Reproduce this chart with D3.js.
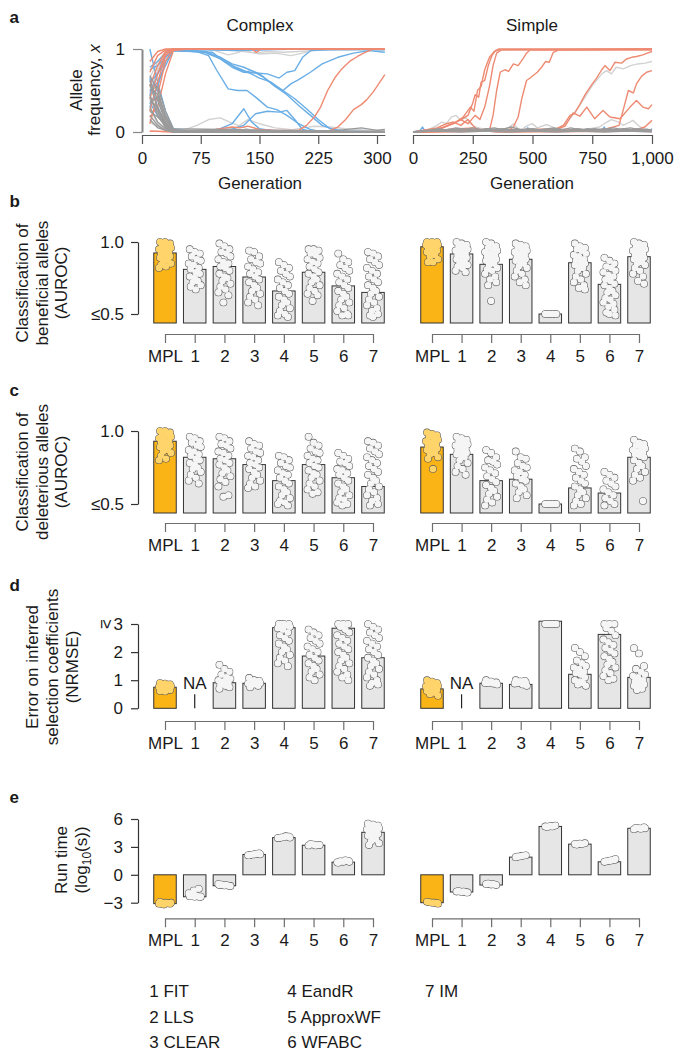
<!DOCTYPE html>
<html><head><meta charset="utf-8">
<script src="https://cdn.jsdelivr.net/npm/d3@7"></script>
<style>body{margin:0;background:#fff}</style>
</head><body>
<script>
// ---------------- DATA ----------------
const categories = ['MPL','1','2','3','4','5','6','7'];
const methodLegend = ['1 FIT','2 LLS','3 CLEAR','4 EandR','5 ApproxWF','6 WFABC','7 IM'];

// Panel a: trajectories [generation, allele frequency]
const complexDeleterious = [
  [[10,1.0],[20,0.6],[30,0.25],[40,0.04],[60,0.01],[80,0.0],[100,0.04],[115,0.1],[130,0.28],[140,0.12],[150,0.04],[170,0.01],[200,0],[310,0]],
  [[10,0.75],[20,0.8],[30,0.9],[40,0.98],[70,0.97],[85,0.92],[95,0.75],[110,0.52],[122,0.5],[134,0.5],[145,0.42],[160,0.3],[172,0.27],[185,0.2],[200,0.1],[215,0.03],[230,0],[310,0]],
  [[10,0.6],[20,0.7],[30,0.85],[40,0.98],[80,0.96],[100,0.88],[115,0.78],[130,0.72],[140,0.74],[155,0.66],[170,0.55],[185,0.45],[200,0.32],[215,0.2],[230,0.08],[250,0.01],[310,0]],
  [[10,0.5],[20,0.6],[30,0.8],[40,0.99],[80,0.97],[100,0.9],[115,0.8],[130,0.72],[145,0.71],[160,0.7],[175,0.65],[185,0.72],[195,0.74],[205,0.9],[215,0.98],[240,0.99],[310,1.0]],
  [[10,0.3],[20,0.55],[30,0.85],[40,0.98],[90,0.96],[105,0.85],[120,0.78],[135,0.72],[150,0.65],[165,0.6],[180,0.5],[195,0.4],[210,0.28],[225,0.15],[240,0.04],[260,0.01],[310,0]],
  [[10,0.45],[20,0.7],[30,0.9],[40,0.99],[80,0.97],[100,0.9],[115,0.82],[130,0.78],[150,0.7],[170,0.55],[180,0.5],[190,0.58],[200,0.63],[215,0.72],[230,0.82],[250,0.9],[270,0.95],[290,0.98],[310,0.96]],
  [[10,0.35],[20,0.2],[30,0.08],[40,0.01],[80,0],[110,0.02],[130,0.08],[145,0.22],[160,0.25],[175,0.24],[185,0.26],[195,0.15],[205,0.03],[220,0],[310,0]],
  [[10,0.65],[20,0.3],[30,0.1],[40,0.02],[120,0.01],[310,0]],
  [[10,0.78],[20,0.85],[30,0.95],[40,1.0],[80,0.99],[120,0.98],[160,0.99],[200,1.0],[310,0.99]]
];
const complexBeneficial = [
  [[10,0.1],[20,0.45],[30,0.85],[40,1],[310,1]],
  [[10,0.25],[20,0.6],[30,0.92],[40,1],[140,1],[146,0.96],[152,1],[310,1]],
  [[10,0.4],[20,0.7],[30,0.95],[40,1],[310,1]],
  [[10,0.55],[20,0.8],[30,0.97],[40,1],[310,1]],
  [[10,0.72],[20,0.92],[30,0.99],[40,1],[310,1]],
  [[10,0.85],[20,0.97],[30,1],[310,1]],
  [[10,0.18],[20,0.3],[30,0.7],[40,0.98],[60,1],[310,1]],
  [[10,0.01],[40,0],[80,0.01],[100,0.04],[115,0.06],[125,0.05],[135,0.07],[150,0.03],[170,0.02],[200,0.02],[210,0.08],[220,0.18],[228,0.3],[237,0.5],[246,0.65],[255,0.76],[265,0.85],[275,0.91],[285,0.96],[295,1],[310,1]],
  [[10,0.01],[60,0],[120,0.01],[160,0.02],[200,0],[240,0.02],[250,0.06],[260,0.15],[270,0.27],[280,0.33],[287,0.39],[295,0.48],[300,0.55],[310,0.69]]
];
const complexNeutral = [
  [[10,0.62],[20,0.38],[30,0.12],[40,0.01],[100,0],[200,0.01],[310,0]],
  [[10,0.55],[20,0.45],[30,0.2],[40,0.03],[60,0],[310,0]],
  [[10,0.45],[20,0.2],[30,0.06],[40,0],[310,0.01]],
  [[10,0.38],[20,0.3],[30,0.1],[40,0.01],[150,0.02],[200,0],[310,0]],
  [[10,0.3],[20,0.12],[30,0.04],[40,0],[250,0.02],[280,0.05],[300,0.02],[310,0.03]],
  [[10,0.25],[20,0.18],[30,0.08],[40,0.02],[310,0]],
  [[10,0.5],[20,0.55],[30,0.25],[40,0.04],[310,0]],
  [[10,0.68],[20,0.5],[30,0.18],[40,0.02],[310,0]],
  [[10,0.2],[20,0.08],[30,0.02],[40,0],[310,0]],
  [[10,0.35],[20,0.42],[30,0.15],[40,0.01],[310,0]],
  [[10,0.42],[20,0.25],[30,0.05],[40,0],[310,0]],
  [[10,0.15],[20,0.05],[40,0],[310,0]],
  [[10,0.58],[20,0.28],[30,0.08],[40,0],[310,0]]
];
const complexNeutralLight = [
  [[10,0.48],[20,0.75],[30,0.95],[40,1],[90,0.99],[100,0.96],[110,0.93],[120,0.95],[130,0.98],[150,0.94],[170,0.95],[190,0.92],[205,0.95],[220,0.99],[240,1],[310,1]],
  [[10,0.65],[20,0.85],[30,0.97],[40,1],[110,0.99],[130,0.97],[145,0.95],[160,0.97],[180,0.96],[200,0.97],[230,0.99],[310,0.99]],
  [[10,0.28],[20,0.1],[30,0.02],[50,0.01],[70,0.08],[85,0.15],[100,0.17],[112,0.12],[125,0.07],[140,0.02],[160,0],[310,0]],
  [[10,0.12],[30,0.01],[100,0.02],[180,0.01],[200,0.04],[220,0.07],[240,0.06],[260,0.04],[290,0.02],[310,0.03]],
  [[10,0.4],[20,0.22],[30,0.08],[40,0.01],[80,0.02],[120,0.05],[135,0.15],[150,0.1],[170,0.05],[200,0.02],[310,0]]
];

const simpleBeneficial = [
  [[0,0],[60,0.01],[120,0.05],[170,0.1],[200,0.15],[230,0.2],[250,0.35],[260,0.45],[275,0.42],[285,0.6],[300,0.62],[315,0.8],[330,0.92],[345,0.98],[360,1],[1000,1]],
  [[0,0],[80,0.02],[130,0.06],[180,0.12],[210,0.18],[240,0.3],[255,0.25],[270,0.5],[285,0.55],[300,0.75],[320,0.9],[340,0.97],[360,0.99],[1000,1]],
  [[0,0],[100,0.02],[150,0.08],[200,0.15],[230,0.1],[260,0.2],[280,0.15],[300,0.3],[320,0.55],[335,0.8],[350,0.95],[370,0.99],[1000,0.99]],
  [[0,0],[150,0.03],[250,0.05],[300,0.02],[320,0.02],[335,0.2],[350,0.5],[365,0.72],[385,0.75],[400,0.73],[420,0.82],[440,0.8],[460,0.88],[475,0.95],[490,0.99],[1000,0.99]],
  [[0,0],[200,0.02],[300,0.03],[400,0.02],[420,0.06],[440,0.18],[455,0.4],[475,0.62],[490,0.65],[503,0.68],[520,0.72],[538,0.78],[555,0.85],[570,0.84],[587,0.96],[610,0.99],[1000,1]],
  [[0,0],[300,0.02],[500,0.03],[600,0.04],[629,0.08],[657,0.2],[675,0.22],[698,0.33],[720,0.45],[748,0.57],[768,0.65],[790,0.75],[803,0.8],[824,0.74],[845,0.84],[873,0.83],[893,0.88],[915,0.9],[935,0.91],[962,0.93],[980,0.95],[1000,0.97]],
  [[0,0],[500,0.02],[800,0.03],[862,0.08],[880,0.27],[901,0.5],[922,0.47],[935,0.58],[956,0.67],[977,0.72],[1000,0.74]],
  [[0,0],[400,0.02],[600,0.03],[636,0.07],[670,0.23],[698,0.19],[727,0.3],[760,0.16],[795,0.26],[824,0.18],[866,0.16],[908,0.3],[935,0.38],[962,0.3],[985,0.28],[1000,0.33]],
  [[0,0],[800,0.02],[940,0.03],[970,0.06],[1000,0.14]],
  [[0,0],[100,0.05],[140,0.1],[170,0.12],[200,0.08],[230,0.15],[260,0.05],[280,0.02],[350,0],[1000,0.01]]
];
const simpleDeleterious = [
  [[0,0],[30,0.02],[40,0.06],[50,0.01],[300,0.02],[470,0.01],[480,0.05],[495,0.01],[600,0.02],[790,0.01],[800,0.06],[810,0.01],[900,0.02],[990,0.01],[1000,0.04]]
];
const simpleNeutralLight = [
  [[0,0],[60,0.02],[100,0.08],[120,0.12],[140,0.1],[160,0.18],[180,0.2],[200,0.14],[220,0.18],[240,0.1],[260,0.06],[300,0.03],[350,0.02],[400,0.05],[420,0.1],[440,0.04],[500,0.02],[1000,0.01]],
  [[0,0],[150,0.03],[450,0.02],[480,0.08],[500,0.1],[520,0.05],[560,0.09],[600,0.04],[700,0.02],[780,0.06],[800,0.1],[830,0.15],[860,0.12],[880,0.08],[920,0.14],[950,0.06],[1000,0.02]],
  [[0,0],[500,0.02],[600,0.03],[640,0.1],[680,0.25],[720,0.42],[748,0.55],[790,0.7],[810,0.74],[830,0.7],[850,0.78],[880,0.76],[910,0.8],[940,0.82],[970,0.83],[1000,0.85]]
];
const simpleNeutral = [
  [[0,0],[50,0.02],[100,0.01],[150,0.03],[200,0.02],[250,0.05],[300,0.02],[350,0.01],[400,0.03],[450,0.02],[500,0.04],[550,0.02],[600,0.03],[650,0.01],[700,0.03],[750,0.02],[800,0.04],[850,0.02],[900,0.03],[950,0.02],[1000,0.01]],
  [[0,0],[40,0.01],[90,0.03],[140,0.02],[190,0.04],[240,0.02],[290,0.03],[340,0.05],[390,0.02],[440,0.03],[490,0.01],[540,0.03],[590,0.05],[640,0.02],[690,0.04],[740,0.02],[790,0.03],[840,0.05],[890,0.02],[940,0.04],[1000,0.02]],
  [[0,0],[60,0.02],[110,0.04],[160,0.01],[210,0.03],[260,0.01],[310,0.04],[360,0.02],[410,0.06],[460,0.02],[510,0.03],[560,0.01],[610,0.02],[660,0.05],[710,0.02],[760,0.04],[810,0.02],[860,0.03],[910,0.05],[960,0.02],[1000,0.03]],
  [[0,0],[70,0.01],[130,0.02],[180,0.05],[230,0.03],[280,0.01],[330,0.03],[380,0.04],[430,0.01],[480,0.04],[530,0.02],[580,0.04],[630,0.02],[680,0.01],[730,0.04],[780,0.02],[830,0.01],[880,0.04],[930,0.02],[980,0.03],[1000,0.02]],
  [[0,0],[100,0.01],[200,0],[300,0.01],[400,0],[500,0.01],[600,0],[700,0.01],[800,0],[900,0.01],[1000,0]]
];
const complexGenTicks = [0,75,150,225,300];
const simpleGenTicks = [0,250,500,750,1000];

// Panel b: AUROC beneficial
const benComplexBars = [0.924,0.81,0.83,0.757,0.66,0.79,0.695,0.65];
const benSimpleBars  = [0.967,0.917,0.845,0.88,0.5,0.856,0.706,0.898];
const benComplexPts = [
  [1.0,1.0,0.99,0.98,0.97,0.96,0.95,0.94,0.93,0.92,0.91,0.9,0.89,0.88,0.87,0.86,0.85,0.84,0.83,0.82],
  [0.95,0.93,0.92,0.9,0.88,0.87,0.85,0.84,0.82,0.81,0.79,0.78,0.76,0.75,0.73,0.72,0.7,0.69,0.67],
  [0.99,0.97,0.95,0.93,0.92,0.9,0.88,0.86,0.85,0.83,0.82,0.8,0.78,0.76,0.75,0.73,0.71,0.69,0.67,0.65,0.63,0.58],
  [0.94,0.93,0.9,0.88,0.86,0.85,0.83,0.81,0.79,0.78,0.76,0.74,0.72,0.7,0.68,0.66,0.64,0.62,0.6,0.58,0.56],
  [0.86,0.84,0.82,0.8,0.78,0.76,0.74,0.72,0.7,0.68,0.66,0.64,0.62,0.6,0.58,0.56,0.54,0.52,0.5,0.49,0.48],
  [0.95,0.95,0.94,0.92,0.91,0.89,0.88,0.86,0.85,0.83,0.81,0.79,0.78,0.76,0.74,0.72,0.7,0.68,0.66,0.64,0.63,0.59],
  [0.92,0.88,0.86,0.84,0.82,0.8,0.78,0.76,0.74,0.72,0.7,0.68,0.66,0.64,0.62,0.6,0.58,0.56,0.54,0.52,0.5,0.49,0.49],
  [0.93,0.92,0.9,0.88,0.86,0.84,0.82,0.8,0.78,0.76,0.74,0.72,0.7,0.68,0.66,0.64,0.62,0.6,0.58,0.56,0.54,0.52,0.5,0.49,0.48]
];
const benSimplePts = [
  [1.0,1.0,1.0,0.99,0.99,0.98,0.98,0.97,0.97,0.96,0.95,0.94,0.93,0.92,0.91,0.9,0.88,0.86,0.86],
  [1.0,0.99,0.98,0.97,0.96,0.95,0.94,0.93,0.92,0.91,0.9,0.89,0.88,0.87,0.86,0.85,0.84,0.83,0.82,0.8,0.79],
  [1.0,0.99,0.97,0.96,0.95,0.94,0.93,0.92,0.91,0.9,0.89,0.88,0.87,0.86,0.85,0.84,0.82,0.81,0.8,0.78,0.76,0.74,0.72,0.7,0.59],
  [0.99,0.98,0.97,0.96,0.95,0.94,0.93,0.92,0.91,0.9,0.89,0.88,0.87,0.86,0.85,0.83,0.82,0.8,0.78,0.76,0.74,0.72,0.7],
  [0.5,0.5,0.5,0.5,0.5,0.5],
  [0.99,0.97,0.96,0.95,0.94,0.92,0.91,0.9,0.88,0.87,0.86,0.85,0.84,0.83,0.82,0.8,0.78,0.76,0.74,0.72,0.7,0.68,0.67],
  [0.89,0.87,0.85,0.83,0.82,0.8,0.79,0.77,0.76,0.74,0.73,0.71,0.7,0.68,0.66,0.65,0.63,0.61,0.6,0.58,0.57,0.55,0.53,0.51,0.5,0.49],
  [1.0,0.99,0.98,0.97,0.96,0.95,0.94,0.93,0.92,0.91,0.9,0.89,0.88,0.87,0.86,0.85,0.84,0.82,0.8,0.78,0.76,0.73,0.71]
];

// Panel c: AUROC deleterious
const delComplexBars = [0.93,0.82,0.81,0.77,0.66,0.77,0.68,0.62];
const delSimpleBars  = [0.89,0.84,0.66,0.67,0.5,0.61,0.575,0.82];
const delComplexPts = [
  [1.0,1.0,0.99,0.98,0.97,0.96,0.95,0.94,0.93,0.92,0.91,0.9,0.89,0.88,0.87,0.86,0.85,0.83,0.81,0.8],
  [0.96,0.95,0.93,0.92,0.9,0.89,0.87,0.86,0.84,0.83,0.81,0.8,0.78,0.77,0.75,0.74,0.72,0.7,0.68,0.66,0.64],
  [0.96,0.95,0.93,0.91,0.9,0.88,0.86,0.85,0.83,0.81,0.8,0.78,0.77,0.75,0.73,0.71,0.69,0.67,0.65,0.62,0.56,0.55],
  [0.93,0.91,0.9,0.88,0.86,0.85,0.83,0.82,0.8,0.78,0.77,0.75,0.74,0.72,0.7,0.68,0.66,0.64,0.62,0.61],
  [0.83,0.82,0.8,0.78,0.76,0.75,0.73,0.71,0.7,0.68,0.66,0.64,0.62,0.6,0.58,0.56,0.54,0.52,0.51,0.5,0.49],
  [0.96,0.92,0.9,0.88,0.86,0.85,0.83,0.81,0.8,0.78,0.76,0.75,0.73,0.71,0.7,0.68,0.66,0.64,0.62,0.6,0.58,0.57],
  [0.85,0.83,0.81,0.79,0.78,0.76,0.74,0.73,0.71,0.7,0.68,0.66,0.64,0.62,0.6,0.58,0.56,0.54,0.53,0.51,0.5,0.49],
  [0.93,0.92,0.9,0.88,0.86,0.84,0.82,0.8,0.78,0.76,0.74,0.72,0.7,0.68,0.66,0.64,0.62,0.6,0.58,0.56,0.54,0.52,0.5,0.49]
];
const delSimplePts = [
  [0.99,0.98,0.97,0.96,0.95,0.94,0.93,0.92,0.91,0.9,0.89,0.88,0.87,0.86,0.85,0.84,0.82,0.81,0.74],
  [0.96,0.95,0.94,0.93,0.92,0.91,0.9,0.89,0.88,0.87,0.86,0.85,0.84,0.83,0.82,0.8,0.78,0.76,0.74,0.72,0.7],
  [0.87,0.85,0.82,0.8,0.79,0.77,0.75,0.73,0.71,0.69,0.67,0.65,0.63,0.61,0.59,0.57,0.55,0.53,0.51,0.49],
  [0.86,0.82,0.81,0.78,0.76,0.75,0.73,0.72,0.7,0.69,0.67,0.66,0.64,0.62,0.6,0.58,0.56,0.54],
  [0.5,0.5,0.5,0.5,0.5,0.5],
  [0.88,0.86,0.82,0.81,0.79,0.76,0.74,0.72,0.7,0.68,0.66,0.64,0.62,0.6,0.58,0.56,0.54,0.52,0.5,0.49],
  [0.72,0.7,0.68,0.66,0.64,0.62,0.6,0.58,0.56,0.54,0.52,0.5,0.49],
  [0.94,0.92,0.91,0.9,0.89,0.88,0.87,0.86,0.85,0.84,0.83,0.82,0.8,0.78,0.76,0.74,0.72,0.7,0.68,0.66,0.52]
];

// Panel d: NRMSE (null = not available)
const errComplexBars = [0.75,null,0.91,0.89,2.87,1.86,2.85,1.8];
const errSimpleBars  = [0.69,null,0.89,0.85,3.1,1.21,2.63,1.1];
const errComplexPts = [
  [0.9,0.88,0.85,0.82,0.8,0.78,0.76,0.74,0.72,0.7,0.68,0.65,0.62,0.6],
  [],
  [1.55,1.4,1.3,1.2,1.1,1.05,1.0,0.95,0.9,0.85,0.8,0.75,0.7],
  [1.08,1.0,0.98,0.95,0.92,0.9,0.88,0.85,0.8,0.75],
  [3,3,3,3,2.95,2.9,2.85,2.8,2.7,2.6,2.5,2.4,2.3,2.2,2.1,2.0,1.9,1.8,1.7,1.6,1.5],
  [2.8,2.7,2.6,2.5,2.4,2.3,2.2,2.1,2.0,1.9,1.8,1.7,1.6,1.5,1.4,1.3,1.2,1.1,1.0],
  [3,3,3,2.9,2.8,2.7,2.6,2.5,2.4,2.3,2.2,2.1,2.0,1.9,1.8,1.7,1.6,1.5,1.4,1.3,1.2,1.1,1.0],
  [3.0,2.9,2.8,2.7,2.6,2.5,2.4,2.3,2.2,2.1,2.0,1.9,1.8,1.7,1.6,1.5,1.4,1.3,1.2,1.1,1.0,0.9,0.85,0.8]
];
const errSimplePts = [
  [1.0,0.95,0.9,0.85,0.82,0.8,0.78,0.75,0.72,0.7,0.68,0.65,0.62,0.6,0.55,0.5,0.45],
  [],
  [1.0,0.95,0.92,0.9,0.88,0.85,0.9,0.93],
  [1.0,0.95,0.92,0.9,0.85,0.8,0.88,0.95,0.98],
  [3,3,3,3,3,3],
  [2.15,2.0,1.85,1.7,1.6,1.5,1.45,1.4,1.3,1.25,1.2,1.1,1.0,0.95,0.9,0.85,0.8],
  [3,3,3,2.85,2.75,2.6,2.45,2.35,2.25,2.15,2.05,1.95,1.85,1.75,1.65,1.55,1.45,1.35,1.25,1.15,1.05,1.0],
  [2.14,1.95,1.5,1.4,1.3,1.2,1.15,1.1,1.0,0.95,0.9,0.85,0.8,0.75,0.7,0.65]
];

// Panel e: run time log10(s)
const timeComplexBars = [-3.1,-2.36,-1.18,2.19,4.0,3.18,1.36,4.57];
const timeSimpleBars  = [-3.0,-1.85,-1.1,1.9,5.2,3.3,1.4,5.0];
const timeComplexPts = [
  [-2.9,-3.0,-3.1,-3.15,-3.05,-3.0,-3.1,-3.2],
  [-2.3,-2.35,-2.4,-2.3,-2.25,-2.35,-2.0,-1.7,-1.5],
  [-1.1,-1.15,-1.2,-1.05,-1.1,-1.2,-1.0],
  [2.1,2.2,2.3,2.15,2.25,2.2,2.1],
  [3.95,4.05,4.1,4.0,4.15,4.0,3.95],
  [3.15,3.25,3.2,3.3,3.15,3.2],
  [1.3,1.4,1.5,1.45,1.55,1.4,1.35],
  [5.5,5.4,5.3,5.2,5.1,5.0,4.9,4.8,4.7,4.6,4.5,4.4,4.2,4.0,3.8,3.6,3.4,3.2]
];
const timeSimplePts = [
  [-2.9,-3.0,-3.05,-2.95,-3.0,-3.1],
  [-1.8,-1.85,-1.9,-1.75,-1.8,-1.9],
  [-1.0,-1.05,-1.1,-0.95,-1.0],
  [1.9,2.0,2.1,1.95,2.05],
  [5.2,5.25,5.3,5.15,5.2],
  [3.3,3.35,3.4,3.25,3.3],
  [1.4,1.5,1.6,1.45,1.55,1.7],
  [4.9,5.0,5.1,5.05,4.95,5.0]
];

// ---------------- STYLE ----------------
const FONT = "'Liberation Sans', Arial, Helvetica, sans-serif";
const FS = 17;
const C = {red:'#ee8a72', blue:'#6aaee6', gray:'#9a9a9a', lgray:'#d2d2d2',
  mpl:'#fbb416', mplPt:'#ffd46a', bar:'#e6e6e6', barStroke:'#333', ptStroke:'#5a5a5a',
  text:'#1a1a1a', axis:'#6e6e6e', yaxis:'#333'};
const jitter = [-5,0,5,-3,2,6,-6,-1,4,-4,1,5,-5,0,3,-2,6,-4,1,-6,4,-1,5,-3,0,6,-5,2];

const svg = d3.select('body').append('svg').attr('width',675).attr('height',1052)
  .style('font-family',FONT);

function label(x,y,str,o={}){
  const g = svg.append('g').attr('transform',`translate(${x},${y}) rotate(${o.rotate||0})`);
  const t = g.append('text').attr('text-anchor',o.anchor||'middle').attr('font-size',o.size||FS)
    .attr('font-weight',o.weight||'normal').attr('fill',C.text);
  if (typeof str === 'string') t.text(str); else str(t);
  return t;
}
function styleAxis(g, color){
  g.select('.domain').attr('stroke',color).attr('stroke-width',1.2);
  g.selectAll('.tick line').attr('stroke',color).attr('stroke-width',1.2);
  g.selectAll('.tick text').attr('font-size',FS).attr('font-family',FONT).attr('fill',C.text);
}

// ---------------- PANEL A ----------------
const yA = d3.scaleLinear().domain([0,1]).range([132,49]);
const xC = d3.scaleLinear().domain([0,310]).range([142,142+310*235/300]);
const xS = d3.scaleLinear().domain([0,1000]).range([413,652]);

function drawTraj(x, groups){
  const line = d3.line().x(d=>x(d[0])).y(d=>yA(d[1]));
  const g = svg.append('g').attr('fill','none').attr('stroke-width',1.4).attr('stroke-linejoin','round');
  groups.forEach(([data,color])=>{
    g.append('g').selectAll('path').data(data).join('path').attr('d',line).attr('stroke',color);
  });
}
drawTraj(xC, [[complexNeutralLight,C.lgray],[complexDeleterious,C.blue],[complexBeneficial,C.red],[complexNeutral,C.gray]]);
drawTraj(xS, [[simpleNeutralLight,C.lgray],[simpleDeleterious,C.blue],[simpleBeneficial,C.red],[simpleNeutral,C.gray]]);

const ayA = svg.append('g').attr('transform','translate(142,0)')
  .call(d3.axisLeft(yA).tickValues([0,1]).tickFormat(d3.format('d')).tickSize(9).tickPadding(8).tickSizeOuter(0));
styleAxis(ayA,'#888'); ayA.select('.domain').attr('stroke-width',2);
const axC = svg.append('g').attr('transform','translate(0,135)')
  .call(d3.axisBottom(xC).tickValues(complexGenTicks).tickSize(9).tickPadding(8).tickSizeOuter(0));
styleAxis(axC,'#555');
const axS = svg.append('g').attr('transform','translate(0,135)')
  .call(d3.axisBottom(xS).tickValues(simpleGenTicks).tickFormat(d3.format(',')).tickSize(9).tickPadding(8).tickSizeOuter(0));
styleAxis(axS,'#555');

label(260,30.5,'Complex');
label(532,30.5,'Simple');
label(260,189,'Generation');
label(532,189,'Generation');
label(81.5,90,'Allele',{rotate:-90});
label(99.5,90,t=>{t.append('tspan').text('frequency, '); t.append('tspan').attr('font-style','italic').text('x');},{rotate:-90});

// ---------------- BAR PANELS ----------------
const xL = d3.scalePoint().domain(categories).range([165,373]);
const xR = d3.scalePoint().domain(categories).range([432,639]);
const BW = 22.5, R = 3.3;

function barPanel(x, y, base, bars, pts, clampMax){
  const g = svg.append('g');
  const rows = bars.map((v,i)=>({v, c:categories[i], i})).filter(d=>d.v!=null);
  g.selectAll('rect').data(rows).join('rect')
    .attr('x',d=>x(d.c)-BW/2).attr('width',BW)
    .attr('y',d=>Math.min(y(d.v),base)).attr('height',d=>Math.abs(base-y(d.v)))
    .attr('fill',d=>d.i===0?C.mpl:C.bar).attr('stroke',C.barStroke).attr('stroke-width',1);
  const all = [];
  pts.forEach((vals,ci)=>vals.forEach((v,k)=>{
    const vv = clampMax!=null ? Math.min(v,clampMax) : v;
    all.push({cx:x(categories[ci])+jitter[k%jitter.length], cy:y(vv), mpl:ci===0});
  }));
  const gp = g.append('g');
  gp.selectAll('circle.o').data(all).join('circle').attr('class','o')
    .attr('cx',d=>d.cx).attr('cy',d=>d.cy).attr('r',R)
    .attr('fill','none').attr('stroke',C.ptStroke).attr('stroke-width',1.1);
  gp.selectAll('circle.f').data(all).join('circle').attr('class','f')
    .attr('cx',d=>d.cx).attr('cy',d=>d.cy).attr('r',R)
    .attr('fill',d=>d.mpl?C.mplPt:'#f5f5f5');
  return g;
}
function catAxis(x, yPos){
  const a = svg.append('g').attr('transform',`translate(0,${yPos})`)
    .call(d3.axisBottom(x).tickSize(9).tickPadding(7).tickSizeOuter(0));
  styleAxis(a,C.axis);
}

// Panel b
const yB = d3.scaleLinear().domain([0.5,1]).range([314,242]);
barPanel(xL,yB,323,benComplexBars,benComplexPts);
barPanel(xR,yB,323,benSimpleBars,benSimplePts);
const ayB = svg.append('g').attr('transform','translate(138,0)')
  .call(d3.axisLeft(yB).tickValues([0.5,1]).tickFormat(d=>d===1?'1.0':'≤0.5').tickSize(7).tickPadding(7).tickSizeOuter(0));
styleAxis(ayB,C.yaxis);
catAxis(xL,334); catAxis(xR,334);
label(27.5,283,'Classification of',{rotate:-90});
label(47.5,283,'beneficial alleles',{rotate:-90});
label(67,283,'(AUROC)',{rotate:-90});

// Panel c
const yCc = d3.scaleLinear().domain([0.5,1]).range([504,431]);
barPanel(xL,yCc,513,delComplexBars,delComplexPts);
barPanel(xR,yCc,513,delSimpleBars,delSimplePts);
const ayC = svg.append('g').attr('transform','translate(138,0)')
  .call(d3.axisLeft(yCc).tickValues([0.5,1]).tickFormat(d=>d===1?'1.0':'≤0.5').tickSize(7).tickPadding(7).tickSizeOuter(0));
styleAxis(ayC,C.yaxis);
catAxis(xL,523); catAxis(xR,523);
label(27.5,472,'Classification of',{rotate:-90});
label(47.5,472,'deleterious alleles',{rotate:-90});
label(67,472,'(AUROC)',{rotate:-90});

// Panel d
const yD = d3.scaleLinear().domain([0,3]).range([708.3,624]);
barPanel(xL,yD,yD(0),errComplexBars,errComplexPts,3);
barPanel(xR,yD,yD(0),errSimpleBars,errSimplePts,3);
const ayD = svg.append('g').attr('transform','translate(138,0)')
  .call(d3.axisLeft(yD).tickValues([0,1,2,3]).tickFormat(d3.format('d')).tickSize(7).tickPadding(8).tickSizeOuter(0));
styleAxis(ayD,C.yaxis);
label(107,yD(3),'≥',{rotate:90}).attr('dy','0.35em');
catAxis(xL,721); catAxis(xR,721);
[[xL,errComplexBars],[xR,errSimpleBars]].forEach(([x,bars])=>{
  bars.forEach((v,i)=>{ if(v!=null) return;
    svg.append('line').attr('x1',x(categories[i])).attr('x2',x(categories[i]))
      .attr('y1',yD(0)).attr('y2',yD(0)-14).attr('stroke','#222').attr('stroke-width',1.2);
    label(x(categories[i]),689,'NA');
  });
});
label(38,667,'Error on inferred',{rotate:-90});
label(58,667,'selection coefficients',{rotate:-90});
label(78,667,'(NRMSE)',{rotate:-90});

// Panel e
const yE = d3.scaleLinear().domain([-3,6]).range([902.7,819]);
barPanel(xL,yE,yE(0),timeComplexBars,timeComplexPts);
barPanel(xR,yE,yE(0),timeSimpleBars,timeSimplePts);
const ayE = svg.append('g').attr('transform','translate(138,0)')
  .call(d3.axisLeft(yE).tickValues([-3,0,3,6]).tickFormat(d=>d<0?'\u2212'+Math.abs(d):String(d)).tickSize(7).tickPadding(8).tickSizeOuter(0));
styleAxis(ayE,C.yaxis);
catAxis(xL,918.3); catAxis(xR,918.3);
label(67,860,'Run time',{rotate:-90});
label(87,860,t=>{t.append('tspan').text('(log');
  t.append('tspan').attr('font-size',12).attr('dy',4).text('10');
  t.append('tspan').attr('dy',-4).text('(s))');},{rotate:-90});

// Panel letters
[['a',22.5],['b',206.5],['c',396],['d',591],['e',803]].forEach(([s,y])=>label(9.5,y,s,{anchor:'start',weight:'bold',size:17}));

// Legend
const legX = [149.3,287.3,425], legY = [997.3,1023.3,1048.3];
methodLegend.forEach((s,i)=>label(legX[Math.floor(i/3)],legY[i%3],s,{anchor:'start'}));
</script>
</body></html>
